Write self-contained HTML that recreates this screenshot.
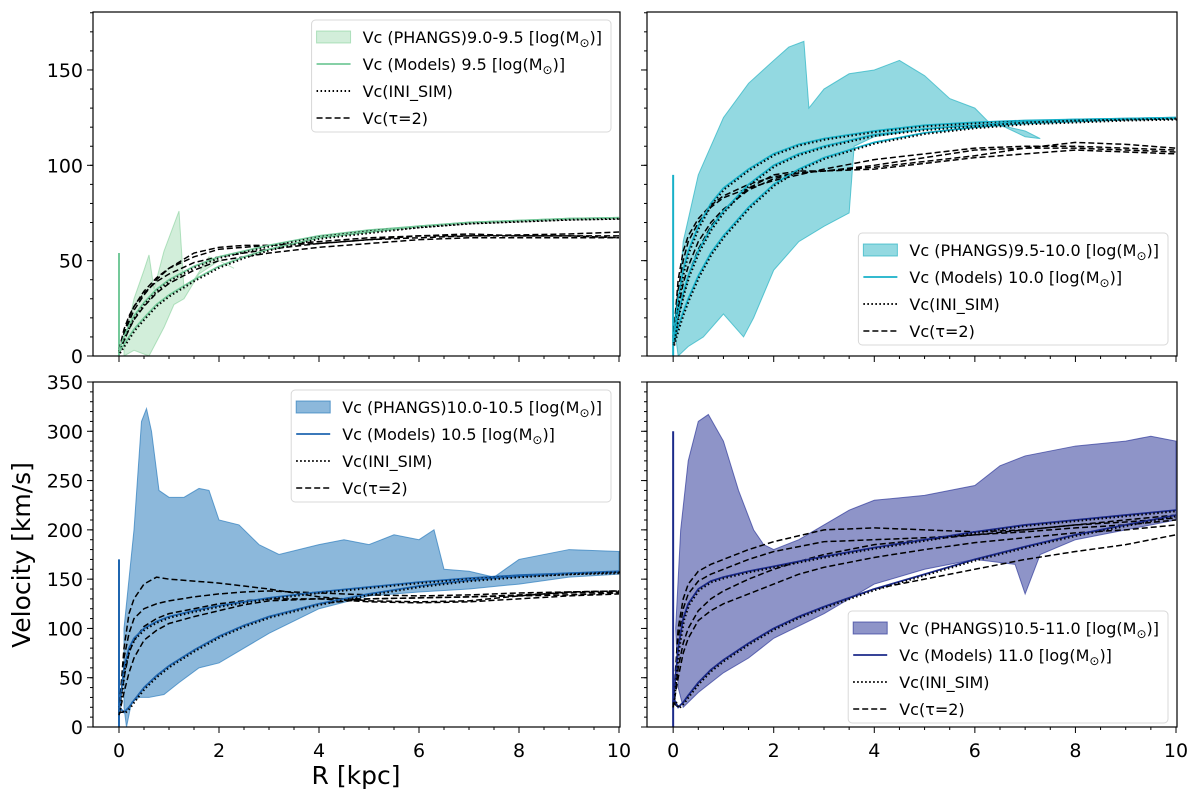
<!DOCTYPE html>
<html><head><meta charset="utf-8"><style>
body{margin:0;background:#fff;font-family:"DejaVu Sans","Liberation Sans",sans-serif;}
svg{display:block}
text{font-family:"DejaVu Sans","Liberation Sans",sans-serif;}
.tk{font-size:19px;fill:#000}
.lg{font-size:16px;fill:#000}
</style></head><body>
<svg id="c" width="1200" height="800"></svg>
<script>
const R=[0,0.1,0.2,0.3,0.5,0.75,1,1.5,2,2.5,3,4,5,6,7,8,9,10];
// panel A (9.5)
const aModel=[[3,10,16,21,28,35,40,47,52,55,58,63,66,68,70,71,72,72.5],[2,6,10,14,20,27,32,40,47,52,56,62,65,68,70,71,72,72.5]];
const aDash=[[2,12,20,26,34,41,46,52,56,57,58,60,62,63,63,63.5,64,65],[2,10,18,24,32,40,46,54,57,58,58,59,61,63,64,63,63,63],[2,8,14,19,26,33,38,45,50,52,54,57,59,61,62,62,62,62],[3,14,21,26,33,39,43,49,52,54,56,59,61,62,63,63,63,62]];
const aBandR=[0.1,0.3,0.5,0.6,0.7,0.9,1.2,1.3,1.5,1.8,2.0,2.3,2.0,1.6,1.3,1.1,0.9,0.7,0.6,0.3,0.1];
const aBandV=[5,30,45,53,35,55,76,35,40,52,50,46,50,43,30,27,15,5,0,3,0];
// panel B (10.0)
const bModel=[[8,30,45,55,68,80,88,98,106,111,114,118,121,122.5,123.5,124,124.5,125],[6,15,23,30,42,54,63,78,90,98,104,112,117,120,122,123,124,124.5],[7,22,33,42,55,67,76,90,100,106,110,116,119,121,123,124,124.5,125]];
const bDash=[[8,40,55,63,72,79,84,90,94,96,97,100,104,108,109,109,108,107],[6,35,50,60,70,78,83,88,92,95,98,103,106,109,110,110,109,108],[7,25,38,47,60,70,77,87,93,96,97,99,102,105,109,112,111,109],[6,20,32,42,56,68,76,88,95,97,97,98,101,104,106,108,107,106]];
const bBandR=[0.05,0.2,0.5,1,1.5,2,2.3,2.6,2.7,3,3.5,4,4.5,5,5.5,6,6.3,6.6,7,7.3,7,6.5,6,5,4,3.6,3.5,3,2.5,2,1.6,1.4,1,0.6,0.3,0.1];
const bBandV=[10,60,95,125,143,155,162,165,130,140,148,150,155,147,135,130,122,120,115,114,118,121,122,119,115,110,75,68,60,45,20,10,22,10,5,0];
// panel C (10.5)
const cModel=[[15,60,80,90,100,107,112,118,123,127,131,137,142,147,151,154,156,157],[20,15,20,27,40,52,62,78,92,103,112,125,135,143,149,153,156,158]];
const cDash=[[15,80,115,130,145,152,150,148,146,143,140,132,128,127,128,133,137,138],[15,70,95,110,120,125,128,132,135,137,138,136,134,133,134,136,137,138],[15,50,75,88,102,110,115,120,125,128,130,130,130,131,132,134,136,137],[12,35,55,70,88,98,105,112,118,124,128,130,127,126,127,130,133,135],[15,15,20,27,40,52,62,78,92,103,112,125,130,131,132,133,134,136]];
const cBandR=[0.1,0.3,0.45,0.55,0.65,0.8,1,1.3,1.6,1.8,2,2.4,2.8,3.2,4,4.5,5,5.5,6,6.3,6.5,7,7.5,8,9,10,10,9,8,7,6,5,4,3,2,1.6,1.2,0.9,0.6,0.4,0.25,0.15,0.1];
const cBandV=[100,200,310,323,300,240,233,233,242,240,210,205,185,175,185,190,185,195,190,200,160,158,152,170,180,178,155,152,145,140,137,133,120,95,65,60,45,33,30,30,25,0,20];
// panel D (11.0)
const dModel=[[25,80,110,125,140,148,152,158,163,168,173,182,190,198,205,210,215,220],[30,20,25,32,45,58,68,85,100,112,122,140,155,170,183,195,205,215]];
const dDash=[[20,100,130,145,158,165,170,180,188,194,200,202,200,198,200,205,210,215],[20,90,120,135,148,155,160,170,178,183,188,190,192,195,198,202,205,210],[20,60,85,100,118,130,138,150,160,168,175,185,190,195,200,205,208,212],[20,50,75,90,108,118,125,135,145,155,162,172,180,187,192,197,200,205],[25,20,25,32,45,58,68,85,100,112,122,140,150,160,170,178,185,195]];
const dBandR=[0.05,0.15,0.3,0.5,0.7,1,1.3,1.6,1.8,2,2.5,3,3.5,4,5,6,6.5,7,8,9,9.5,10,10,9,8,7.3,7.0,6.8,6,5,4,3,2,1.5,1,0.5,0.2,0.1];
const dBandV=[100,200,270,310,317,290,240,200,185,180,190,205,220,230,235,245,265,275,285,290,295,290,210,200,190,175,135,165,170,160,145,115,90,70,55,35,20,40];
const yTicksTop=[0,50,100,150];
const yTicksBot=[0,50,100,150,200,250,300,350];
const xTicks=[0,2,4,6,8,10];

const NS='http://www.w3.org/2000/svg';
const svg=document.getElementById('c');
function mk(tag,at,parent){const e=document.createElementNS(NS,tag);for(const k in at)e.setAttribute(k,at[k]);(parent||svg).appendChild(e);return e;}

function panel(o){
  const g=mk('g',{});
  
  
  const X=v=>o.x0+(v+0.52)*(o.x1-o.x0)/10.54;
  const Y=v=>o.y1-(v-0)*(o.y1-o.y0)/o.ymax;
  const cp=mk('clipPath',{id:'cp'+o.id},g);mk('rect',{x:o.x0,y:o.y0,width:o.x1-o.x0,height:o.y1-o.y0},cp);
  const pg=mk('g',{'clip-path':'url(#cp'+o.id+')'},g);
  const band=mk('polygon',{points:o.bR.map((r,i)=>X(r)+','+Y(o.bV[i])).join(' '),fill:o.fill,stroke:o.fillS,'stroke-width':1},pg);
  
  
  const vl=mk('line',{x1:X(0),x2:X(0),y1:Y(0),y2:Y(o.vline),stroke:o.col,'stroke-width':2},pg);
  
  
  const pts=a=>a.map((v,i)=>X(R[i])+','+Y(v)).join(' ');
  o.dash.forEach(a=>{const l=mk('polyline',{points:pts(a),fill:'none',stroke:'#000','stroke-width':1.5,'stroke-dasharray':'6,3'},pg);
    
    });
  o.model.forEach(a=>{const l=mk('polyline',{points:pts(a),fill:'none',stroke:o.col,'stroke-width':1.8},pg);
    
    
    const d=mk('polyline',{points:pts(a),fill:'none',stroke:'#000','stroke-width':2,'stroke-dasharray':'1.5,2.5',transform:'translate(1,1)'},pg);
    
    });
  mk('rect',{x:o.x0,y:o.y0,width:o.x1-o.x0,height:o.y1-o.y0,fill:'none',stroke:'#000','stroke-width':1.2},g);
  xTicks.forEach(t=>{mk('line',{x1:X(t),x2:X(t),y1:o.y1,y2:o.y1+6,stroke:'#000'},g);
    if(o.xl){const tx=mk('text',{x:X(t),y:o.y1+30,'text-anchor':'middle',class:'tk'},g);tx.textContent=t;
      
      }});
  for(let t=0;t<=10;t+=0.5){if(t%2)mk('line',{x1:X(t),x2:X(t),y1:o.y1,y2:o.y1+3,stroke:'#000'},g);}
  for(let t=0;t<=o.ymax;t+=10){mk('line',{x1:o.x0,x2:o.x0-3,y1:Y(t),y2:Y(t),stroke:'#000'},g);}
  o.yt.forEach(t=>{mk('line',{x1:o.x0,x2:o.x0-6,y1:Y(t),y2:Y(t),stroke:'#000'},g);
    if(o.yl){const tx=mk('text',{x:o.x0-10,y:Y(t)+7,'text-anchor':'end',class:'tk'},g);tx.textContent=t;
      
      }});
  // legend
  const L=o.leg, lg=mk('g',{},g);
  
  
  const box=mk('rect',{x:0,y:L.y,width:10,height:112,rx:4,fill:'#fff','fill-opacity':0.85,stroke:'#d8d8d8'},lg);
  const rows=[o.l1,o.l2,'Vc(INI_SIM)','Vc(τ=2)'];
  const texts=[];
  const items=[];
  rows.forEach((s,i)=>{const cy=L.y+17+i*27;
    let h;
    if(i==0)h=mk('rect',{y:cy-6,width:34,height:12,fill:o.fill,stroke:o.fillS},lg);
    if(i==1)h=mk('line',{y1:cy,y2:cy,stroke:o.col,'stroke-width':1.8},lg);
    if(i==2)h=mk('line',{y1:cy,y2:cy,stroke:'#000','stroke-width':2,'stroke-dasharray':'1.5,2.5'},lg);
    if(i==3)h=mk('line',{y1:cy,y2:cy,stroke:'#000','stroke-width':1.5,'stroke-dasharray':'6,3'},lg);
    items.push(h);
    const tx=mk('text',{y:cy+6,class:'lg'},lg);tx.innerHTML=s;texts.push(tx);
    
    });
  let w=0;texts.forEach(t=>{w=Math.max(w,t.getComputedTextLength());});
  const bw=w+51+9, bx=o.x1-9-bw;
  box.setAttribute('x',bx);box.setAttribute('width',bw);
  texts.forEach(t=>t.setAttribute('x',bx+51));
  items.forEach((h,i)=>{if(i==0)h.setAttribute('x',bx+5);else{h.setAttribute('x1',bx+5);h.setAttribute('x2',bx+39);}});
}
const M='[log(M<tspan dy="4" font-size="12">⊙</tspan><tspan dy="-4">)]</tspan>';
panel({id:'a',name:'panel-9-5',x0:93,x1:620,y0:12,y1:356,ymax:180.4,yt:yTicksTop,xl:false,yl:true,bR:aBandR,bV:aBandV,model:aModel,dash:aDash,vline:54,col:'#74c99a',fill:'rgba(116,201,140,0.32)',fillS:'rgba(116,201,140,0.5)',l1:'Vc (PHANGS)9.0-9.5 '+M,l2:'Vc (Models) 9.5 '+M,leg:{y:20}});
panel({id:'b',name:'panel-10-0',x0:647,x1:1177,y0:12,y1:356,ymax:180.4,yt:yTicksTop,xl:false,yl:false,bR:bBandR,bV:bBandV,model:bModel,dash:bDash,vline:95,col:'#17b0c8',fill:'rgba(40,180,195,0.5)',fillS:'rgba(40,180,195,0.7)',l1:'Vc (PHANGS)9.5-10.0 '+M,l2:'Vc (Models) 10.0 '+M,leg:{y:233}});
panel({id:'c',name:'panel-10-5',x0:93,x1:620,y0:382,y1:727,ymax:350,yt:yTicksBot,xl:true,yl:true,bR:cBandR,bV:cBandV,model:cModel,dash:cDash,vline:170,col:'#1f66b0',fill:'rgba(45,125,190,0.55)',fillS:'rgba(45,125,190,0.7)',l1:'Vc (PHANGS)10.0-10.5 '+M,l2:'Vc (Models) 10.5 '+M,leg:{y:390}});
panel({id:'d',name:'panel-11-0',x0:647,x1:1177,y0:382,y1:727,ymax:350,yt:yTicksBot,xl:true,yl:false,bR:dBandR,bV:dBandV,model:dModel,dash:dDash,vline:300,col:'#1b2a8a',fill:'rgba(50,60,155,0.55)',fillS:'rgba(50,60,155,0.7)',l1:'Vc (PHANGS)10.5-11.0 '+M,l2:'Vc (Models) 11.0 '+M,leg:{y:611}});
const yl=mk('text',{x:0,y:0,'font-size':25,transform:'translate(30,555) rotate(-90)','text-anchor':'middle'});yl.textContent='Velocity [km/s]';


const xl=mk('text',{x:356,y:784,'font-size':25,'text-anchor':'middle'});xl.textContent='R [kpc]';


</script>
</body></html>
